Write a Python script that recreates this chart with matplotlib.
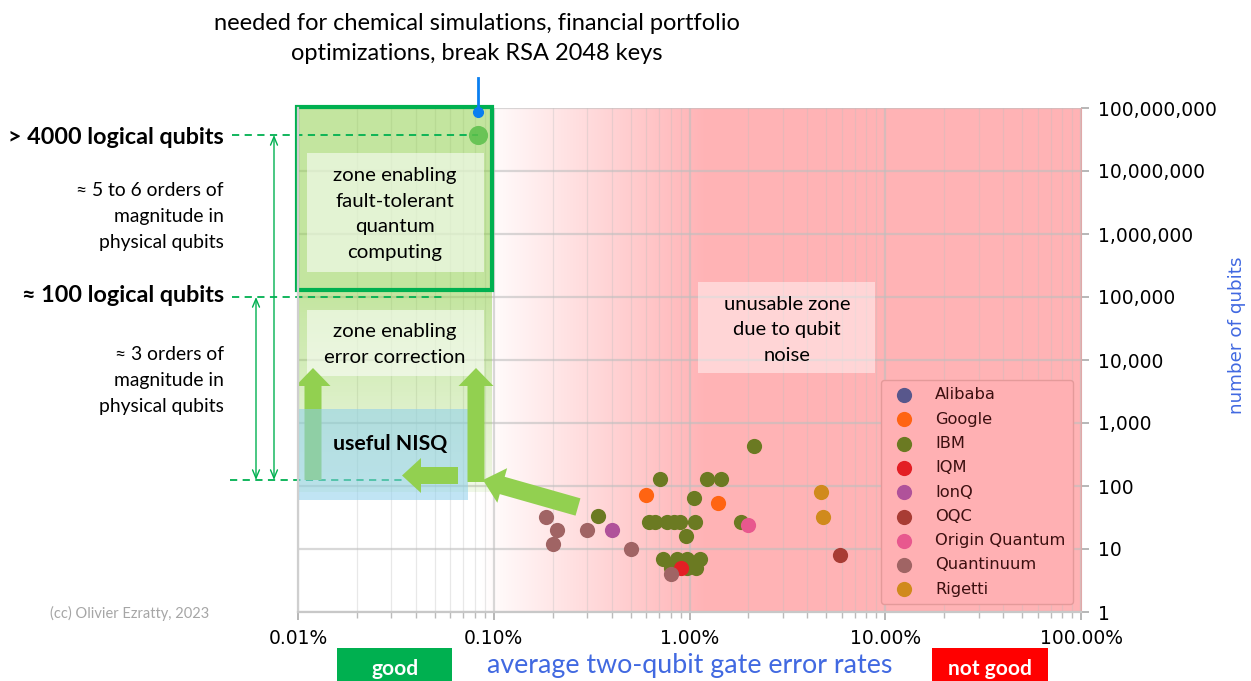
import numpy as np
import matplotlib.pyplot as plt
import matplotlib.transforms as mtransforms
from matplotlib.patches import Rectangle, FancyArrow
from matplotlib.lines import Line2D
from matplotlib.ticker import FuncFormatter, LogLocator, NullLocator, NullFormatter

W, H = 1251, 681

# ---- data (error rate as a fraction, number of physical qubits) ----
companies = ["Alibaba", "Google", "IBM", "IQM", "IonQ", "OQC",
             "Origin Quantum", "Quantinuum", "Rigetti"]
colors = ["#58578c", "#ff6412", "#6b7a22", "#e31e24", "#b0529a",
          "#a83c34", "#e8588e", "#a06464", "#d08a1c"]

alibaba_err = []
alibaba_qubits = []
google_err = [0.0060, 0.0140]
google_qubits = [72, 53]
ibm_err = [0.0213, 0.0071, 0.0123, 0.0145, 0.0105, 0.0034,
           0.0062, 0.0067, 0.0077, 0.0083, 0.0089, 0.0107, 0.0096, 0.0184,
           0.0073, 0.0086, 0.0097, 0.0113, 0.0080, 0.0097, 0.0108]
ibm_qubits = [433, 127, 127, 127, 65, 33,
              27, 27, 27, 27, 27, 27, 16, 27,
              7, 7, 7, 7, 5, 5, 5]
iqm_err = [0.0090]
iqm_qubits = [5]
ionq_err = [0.0040]
ionq_qubits = [20]
oqc_err = [0.059]
oqc_qubits = [8]
origin_err = [0.020]
origin_qubits = [24]
quantinuum_err = [0.00184, 0.0021, 0.0020, 0.0030, 0.0050, 0.0080]
quantinuum_qubits = [32, 20, 12, 20, 10, 4]
rigetti_err = [0.047, 0.048]
rigetti_qubits = [80, 32]

# fault-tolerant target (> 4000 logical qubits)
target_err = [0.00083]
target_qubits = [3.7e7]

x_ticks = [1e-4, 1e-3, 1e-2, 1e-1, 1]
y_ticks = [1, 10, 100, 1e3, 1e4, 1e5, 1e6, 1e7, 1e8]

series = {
    "Alibaba": (alibaba_err, alibaba_qubits),
    "Google": (google_err, google_qubits),
    "IBM": (ibm_err, ibm_qubits),
    "IQM": (iqm_err, iqm_qubits),
    "IonQ": (ionq_err, ionq_qubits),
    "OQC": (oqc_err, oqc_qubits),
    "Origin Quantum": (origin_err, origin_qubits),
    "Quantinuum": (quantinuum_err, quantinuum_qubits),
    "Rigetti": (rigetti_err, rigetti_qubits),
}

SANS = ["Lato", "DejaVu Sans"]

fig = plt.figure(figsize=(W / 100, H / 100), dpi=100)
ax = fig.add_axes([298 / W, 1 - 612 / H, (1081 - 298) / W, (612 - 108) / H])

# pixel coordinates, origin top-left
px = mtransforms.Affine2D().scale(1 / 100, -1 / 100).translate(0, H / 100) + fig.dpi_scale_trans


def blend(c, a):
    return tuple(1 - a * (1 - v) for v in c)


# red "unusable" gradient
pink = (1.0, 0.70, 0.71)
g0, g1 = 480, 705
for xp in range(g0, g1):
    a = (xp - g0) / (g1 - g0)
    ax.add_patch(Rectangle((xp, 108), 1.2, 504, transform=px, color=blend(pink, a),
                           lw=0, antialiased=False, zorder=0.1))
ax.add_patch(Rectangle((g1, 108), 1081 - g1, 504, transform=px, color=pink,
                       lw=0, antialiased=False, zorder=0.1))

# green zones
green = (146 / 255, 208 / 255, 80 / 255)
ax.add_patch(Rectangle((298, 108), 194, 182, transform=px, color=green, alpha=0.55,
                       lw=0, zorder=1))
for yp in range(290, 492, 2):
    a = 0.55 - 0.42 * (yp - 290) / 200
    ax.add_patch(Rectangle((298, yp), 194, 2, transform=px, color=green, alpha=a,
                           lw=0, antialiased=False, zorder=1))
ax.add_patch(Rectangle((297, 107), 195, 183, transform=px, fill=False,
                       edgecolor="#00b050", lw=3, zorder=2.5, clip_on=False))
ax.add_patch(Rectangle((307, 153), 177, 119, transform=px, color="white", alpha=0.55,
                       lw=0, zorder=1.1))
ax.add_patch(Rectangle((307, 310), 177, 66, transform=px, color="white", alpha=0.55,
                       lw=0, zorder=1.1))
ax.add_patch(Rectangle((698, 282), 177, 91, transform=px, color="white", alpha=0.45,
                       lw=0, zorder=1.1))

# dashed level lines
for y0, x0, x1 in [(135, 232, 478), (297, 232, 442), (480, 230, 404)]:
    ax.add_line(Line2D([x0, x1], [y0, y0], transform=px, color="#00b050", lw=1.3,
                       ls=(0, (4, 3)), zorder=1.2, clip_on=False))

# double arrows for the orders of magnitude
for xa, ya in [(274, 135), (256, 297)]:
    ax.annotate("", xy=(xa, ya), xytext=(xa, 480), xycoords=px, textcoords=px,
                arrowprops=dict(arrowstyle="<->,head_length=0.6,head_width=0.25",
                                color="#00b050", lw=1.0, shrinkA=0, shrinkB=0),
                zorder=1.2, annotation_clip=False)

# block arrows
arrow_green = "#92d050"
ax.add_patch(FancyArrow(313, 480, 0, -112, width=17, head_width=35, head_length=18,
                        length_includes_head=True, transform=px, color=arrow_green,
                        lw=0, zorder=1.3))
ax.add_patch(Rectangle((298, 409), 170, 91, transform=px, color=(141 / 255, 207 / 255, 236 / 255),
                       alpha=0.55, lw=0, zorder=1.4))
ax.add_patch(FancyArrow(476, 482, 0, -114, width=17, head_width=35, head_length=18,
                        length_includes_head=True, transform=px, color=arrow_green,
                        lw=0, zorder=1.5))
ax.add_patch(FancyArrow(458, 475.5, -56, 0, width=17, head_width=35, head_length=19,
                        length_includes_head=True, transform=px, color=arrow_green,
                        lw=0, zorder=1.5))
ax.add_patch(FancyArrow(578, 507, -95, -27, width=18, head_width=36, head_length=20,
                        length_includes_head=True, transform=px, color=arrow_green,
                        lw=0, zorder=1.5, clip_on=False))

# annotation pointer to the target
ax.add_line(Line2D([478, 478], [78, 112], transform=px, color="#0a7ff0", lw=2,
                   zorder=4, clip_on=False))
ax.add_line(Line2D([478], [112], transform=px, color="#0a7ff0", marker="o", ms=7,
                   zorder=4, clip_on=False))

# data points
for name, c in zip(companies, colors):
    xs, ys = series[name]
    ax.scatter(xs, ys, s=120, color=c, lw=0, label=name, zorder=3)
ax.scatter(target_err, target_qubits, s=190, color="#5abf4a", alpha=0.85, lw=0, zorder=3)

# axes styling
ax.set_xscale("log")
ax.set_yscale("log")
ax.set_xlim(1e-4, 1)
ax.set_ylim(1, 1e8)
ax.set_xticks(x_ticks)
ax.set_yticks(y_ticks)
ax.xaxis.set_minor_locator(LogLocator(base=10, subs=np.arange(2, 10), numticks=20))
ax.xaxis.set_minor_formatter(NullFormatter())
ax.yaxis.set_minor_locator(NullLocator())
ax.xaxis.set_major_formatter(FuncFormatter(lambda v, _: f"{v * 100:.2f}%"))
ax.yaxis.set_major_formatter(FuncFormatter(lambda v, _: f"{int(round(v)):,}"))
ax.yaxis.tick_right()
ax.tick_params(axis="both", which="major", labelsize=13.5, color="#aaaaaa",
               length=6, width=1.2, pad=6, labelcolor="black")
ax.tick_params(axis="x", which="minor", color="#bbbbbb", length=4, width=1)
ax.set_axisbelow(True)
ax.grid(True, which="major", color="#bfbfbf", lw=1.6, alpha=0.6)
ax.grid(True, which="minor", axis="x", color="#bfbfbf", lw=0.9, alpha=0.35)
ax.spines["top"].set_visible(False)
ax.spines["left"].set_color("#cfcfcf")
ax.spines["left"].set_linewidth(1.6)
ax.spines["bottom"].set_color("#c8c8c8")
ax.spines["bottom"].set_linewidth(1.6)
ax.spines["right"].set_color("#e0a8a8")
ax.set_facecolor("white")

leg = ax.legend(loc="lower right", fontsize=11.7, frameon=True, fancybox=True,
                facecolor="#ffb0b3", edgecolor="#e49a9a", framealpha=1,
                labelspacing=0.57, borderpad=0.45, handletextpad=0.9, borderaxespad=0.5)
leg.set_zorder(5)
for t in leg.get_texts():
    t.set_color("#3c1010")


def ptext(x, y, lines, step, **kw):
    for i, s in enumerate(lines):
        ax.text(x, y + i * step, s, transform=px, va="center_baseline",
                family=SANS, clip_on=False, **kw)


ptext(477, 22, ["needed for chemical simulations, financial portfolio",
                "optimizations, break RSA 2048 keys"], 30, fontsize=17, ha="center")
ptext(224, 135, ["> 4000 logical qubits"], 0, fontsize=16.8, fontweight="bold", ha="right")
ptext(224, 294, ["\u2248 100 logical qubits"], 0, fontsize=16.8, fontweight="bold", ha="right")
ptext(224, 189, ["\u2248 5 to 6 orders of", "magnitude in", "physical qubits"], 26,
      fontsize=13.9, ha="right")
ptext(224, 353, ["\u2248 3 orders of", "magnitude in", "physical qubits"], 26,
      fontsize=13.9, ha="right")
ptext(395, 174, ["zone enabling", "fault-tolerant", "quantum", "computing"], 25.7,
      fontsize=14.7, ha="center", zorder=4)
ptext(395, 330, ["zone enabling", "error correction"], 26, fontsize=14.7, ha="center", zorder=4)
ptext(390, 442, ["useful NISQ"], 0, fontsize=15.3, fontweight="bold", ha="center", zorder=4)
ptext(787, 303, ["unusable zone", "due to qubit", "noise"], 25.5, fontsize=14.5,
      ha="center", zorder=4)
ptext(130, 612, ["(cc) Olivier Ezratty, 2023"], 0, fontsize=10.5, ha="center", color="#a6a6a6")

ax.text(1237, 335, "number of qubits", transform=px, rotation=90, ha="center",
        va="center", fontsize=13.2, color="#4169e1", clip_on=False)
ptext(690, 663, ["average two-qubit gate error rates"], 0, fontsize=19.3, ha="center",
      color="#4169e1")

ax.add_patch(Rectangle((337, 648), 115, 33, transform=px, color="#00b050", lw=0, clip_on=False))
ax.add_patch(Rectangle((932, 648), 116, 33, transform=px, color="#ff0000", lw=0, clip_on=False))
ptext(395, 667, ["good"], 0, fontsize=15, fontweight="bold", ha="center", color="white", zorder=6)
ptext(990, 667, ["not good"], 0, fontsize=15, fontweight="bold", ha="center", color="white", zorder=6)

fig.savefig("out.png", dpi=100)
